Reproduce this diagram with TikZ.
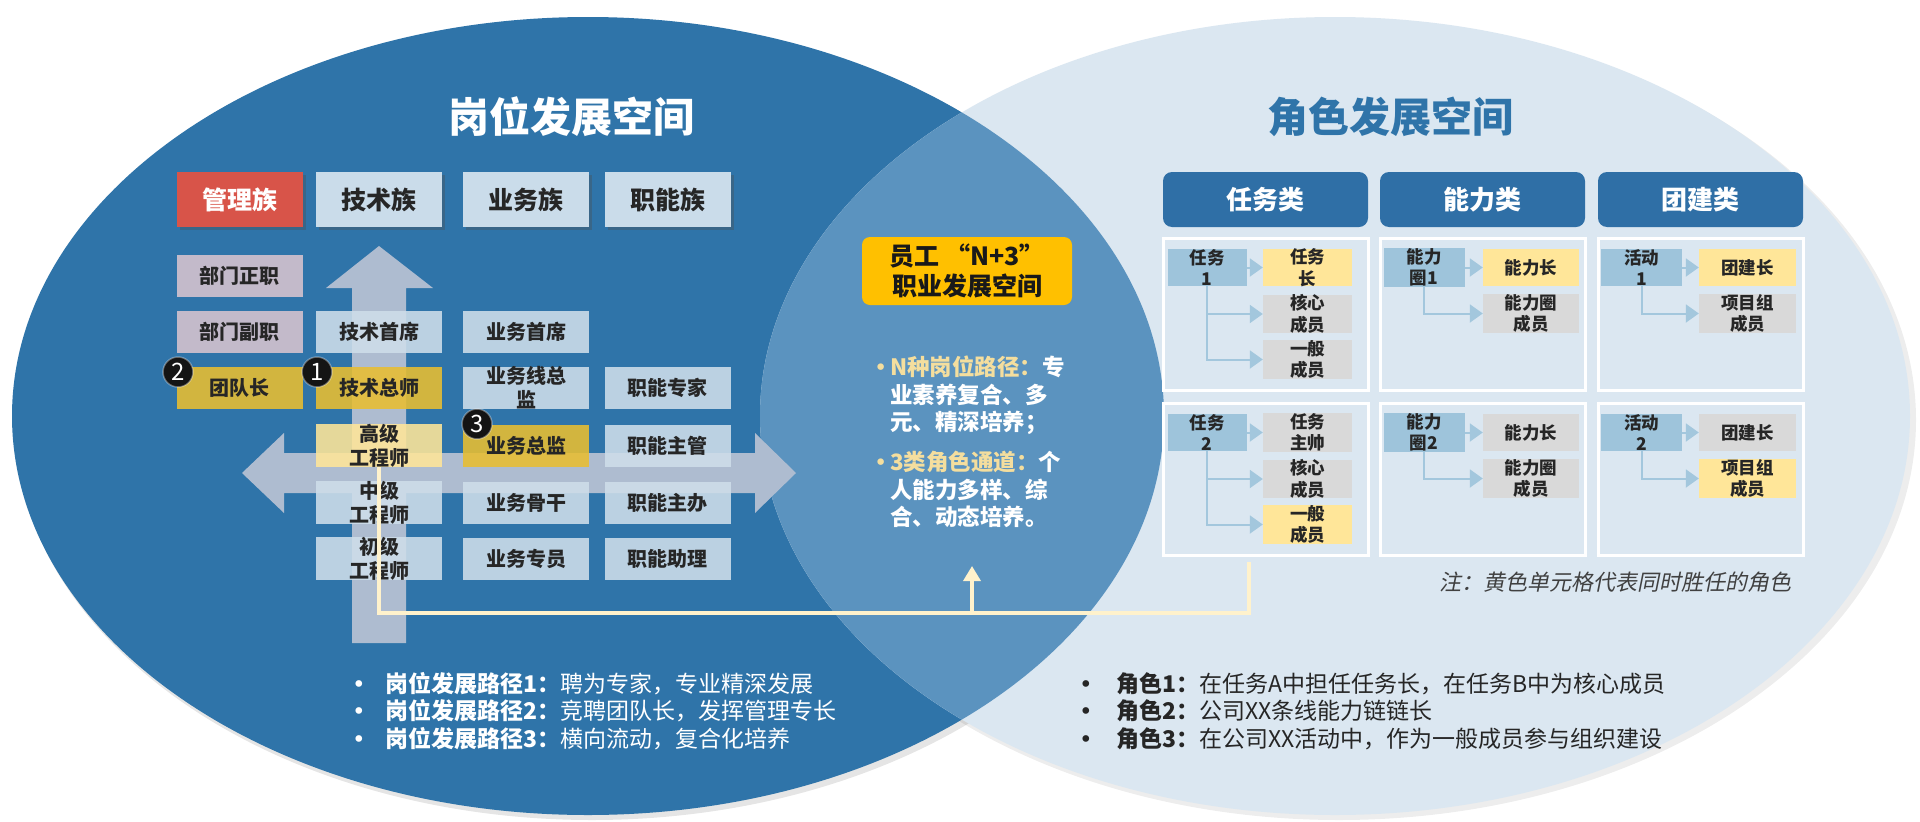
\documentclass[tikz,border=0pt]{standalone}
\usepackage{fontspec}
\setmainfont{Noto Sans CJK SC}
\newfontfamily\cjkit[FakeSlant=0.2]{Noto Sans CJK SC}
\newfontfamily\dejavu{DejaVu Sans}
\newcommand{\bul}{{\dejavu\mdseries •}}
\usetikzlibrary{shadows,arrows.meta,calc}
\definecolor{dblue}{HTML}{2F74A9}
\definecolor{lbg}{HTML}{DBE7F1}
\definecolor{lens}{HTML}{5B93BF}
\definecolor{hbox}{HTML}{CADCEA}
\definecolor{cbox}{HTML}{CFDEEA}
\definecolor{redb}{HTML}{D85449}
\definecolor{mauve}{HTML}{D8C4CF}
\definecolor{goldb}{HTML}{E9BE31}
\definecolor{paley}{HTML}{FFE699}
\definecolor{arrowc}{HTML}{AEBCD0}
\definecolor{nboxc}{HTML}{FFC000}
\definecolor{rhdr}{HTML}{2F6FA6}
\definecolor{tboxc}{HTML}{9EC4DB}
\definecolor{ycell}{HTML}{FFE699}
\definecolor{gcell}{HTML}{D9D9D9}
\definecolor{tlinec}{HTML}{A3C7DD}
\definecolor{cream}{HTML}{FFF2CC}
\definecolor{hl}{HTML}{F4DE9E}
\definecolor{txt}{HTML}{262626}
\definecolor{notec}{HTML}{404040}
\begin{document}
\begin{tikzpicture}[x=1pt,y=-1pt,
  lhdr/.style={minimum width=126, minimum height=55, inner sep=0, fill=hbox, text=txt,
    font=\bfseries\fontsize{25}{28}\selectfont,
    drop shadow={shadow xshift=3pt, shadow yshift=-3pt, opacity=0.35, fill=black!70}},
  lcell/.style={minimum width=126, minimum height=42, inner sep=0, fill=cbox, text=txt,
    align=center, fill opacity=0.88, text opacity=1,
    font=\bfseries\fontsize{20}{24}\selectfont},
  circnum/.style={circle, fill=black!92, minimum size=30, inner sep=0, text=white,
    draw=white, draw opacity=0.35, line width=1.5,
    font=\fontsize{24}{24}\selectfont},
  rhdrbox/.style={rounded corners=9, fill=rhdr, minimum width=205, minimum height=55,
    inner sep=0, text=white, font=\bfseries\fontsize{26}{28}\selectfont},
  grpbox/.style={draw=white, line width=3, minimum width=205, minimum height=152, inner sep=0},
  tbbox/.style={fill=tboxc, minimum height=37, inner sep=0, align=center, text=txt,
    font=\bfseries\fontsize{17.5}{21.5}\selectfont},
  ccell/.style={minimum height=37, inner sep=0, align=center, text=txt,
    font=\bfseries\fontsize{17.5}{21.5}\selectfont},
  tarrow/.style={draw=tlinec, line width=2, -{Triangle[length=13pt,width=18pt]}},
  creamln/.style={draw=cream, line width=3.5},
  nbox/.style={rounded corners=8, fill=nboxc, minimum width=210, minimum height=68,
    inner sep=0, align=center, text=black!90, font=\bfseries\fontsize{25}{30}\selectfont},
  lensline/.style={anchor=base west, inner sep=0, text=white,
    font=\bfseries\fontsize{22.5}{27.5}\selectfont},
  botline/.style={anchor=base west, inner sep=0, font=\fontsize{23}{24}\selectfont}
]
\useasboundingbox (0,0) rectangle (1920,822);
\fill[white] (0,0) rectangle (1920,822);

% ellipses with soft shadows
\fill[black, opacity=0.10] (592,420) ellipse [x radius=578, y radius=400];
\fill[black, opacity=0.07] (1339,420) ellipse [x radius=577, y radius=400];
\fill[dblue] (588,416) ellipse [x radius=576, y radius=399];
\fill[lbg] (1335,416) ellipse [x radius=575, y radius=399];
\begin{scope}
  \clip (588,416) ellipse [x radius=576, y radius=399];
  \fill[lens] (1335,416) ellipse [x radius=575, y radius=399];
\end{scope}

% titles
\node[text=white, font=\bfseries\fontsize{41}{44}\selectfont] (ttl) at (571,117) {岗位发展空间};
\node[text=dblue, font=\bfseries\fontsize{41}{44}\selectfont] (ttr) at (1390,117) {角色发展空间};

% big arrows
\fill[arrowc] (379,246) -- (433,288) -- (406,288) -- (406,643) -- (352,643) -- (352,288) -- (326,288) -- cycle;
\fill[arrowc] (242,473) -- (284,433) -- (284,453) -- (755,453) -- (755,433) -- (796,473)
  -- (755,513) -- (755,493) -- (284,493) -- (284,513) -- cycle;

% left headers
\node[lhdr, fill=redb, text=white] (h0) at (239.5,199.5) {管理族};
\node[lhdr] (h1) at (379,199.5) {技术族};
\node[lhdr] (h2) at (526,199.5) {业务族};
\node[lhdr] (h3) at (667.5,199.5) {职能族};

% left cells
\node[lcell, fill=mauve] (c-bz) at (239.5,275.5) {部门正职};
\node[lcell, fill=mauve] (c-bf) at (239.5,332) {部门副职};
\node[lcell] (c-js) at (379,332) {技术首席};
\node[lcell] (c-ys) at (526,332) {业务首席};
\node[lcell, fill=goldb] (c-td) at (239.5,388) {团队长};
\node[lcell, fill=goldb] (c-jz) at (379,388) {技术总师};
\node[lcell] (c-yx) at (526,388) {业务线总\\监};
\node[lcell] (c-zz) at (667.5,388) {职能专家};
\node[lcell, fill=paley] (c-gj) at (379,445.5) {高级\\工程师};
\node[lcell, fill=goldb] (c-yz) at (526,445.5) {业务总监};
\node[lcell] (c-zg) at (667.5,445.5) {职能主管};
\node[lcell] (c-zj) at (379,502.5) {中级\\工程师};
\node[lcell] (c-yg) at (526,502.5) {业务骨干};
\node[lcell] (c-zb) at (667.5,502.5) {职能主办};
\node[lcell] (c-cj) at (379,558.5) {初级\\工程师};
\node[lcell] (c-yy) at (526,558.5) {业务专员};
\node[lcell] (c-zl) at (667.5,558.5) {职能助理};

% numbered circles
\node[circnum] (n2) at (178,372) {2};
\node[circnum] (n1) at (317,372) {1};
\node[circnum] (n3c) at (477,424) {3};

% N+3 box
\node[nbox] (n3) at (967,271) {员工 “N+3”\\职业发展空间};

% lens bullets
\node[lensline] (b1l1) at (874,375.5) {\makebox[16pt][l]{\textcolor{hl}{\bul}}\textcolor{hl}{N种岗位路径：}专};
\node[lensline] (b1l2) at (890,403) {业素养复合、多};
\node[lensline] (b1l3) at (890,430.5) {元、精深培养；};
\node[lensline] (b2l1) at (874,470.5) {\makebox[16pt][l]{\textcolor{hl}{\bul}}\textcolor{hl}{3类角色通道：}个};
\node[lensline] (b2l2) at (890,498) {人能力多样、综};
\node[lensline] (b2l3) at (890,525.5) {合、动态培养。};

% right headers
\node[rhdrbox] (rh1) at (1265.5,199.5) {任务类};
\node[rhdrbox] (rh2) at (1482.5,199.5) {能力类};
\node[rhdrbox] (rh3) at (1700.5,199.5) {团建类};

% group boxes
\node[grpbox] (g11) at (1266,314) {};
\node[grpbox] (g12) at (1482.5,314) {};
\node[grpbox] (g13) at (1700.5,314) {};
\node[grpbox] (g21) at (1266,479) {};
\node[grpbox] (g22) at (1482.5,479) {};
\node[grpbox] (g23) at (1700.5,479) {};

% task group 1
\node[tbbox, minimum width=79] (t1) at (1207,267.5) {任务\\1};
\node[ccell, fill=ycell, minimum width=89] (t1a) at (1307.5,267.5) {任务\\长};
\node[ccell, fill=gcell, minimum width=89] (t1b) at (1307.5,314) {核心\\成员};
\node[ccell, fill=gcell, minimum width=89] (t1c) at (1307.5,359.5) {一般\\成员};
\draw[tarrow] (t1.east) -- (t1a.west);
\draw[tarrow] (t1.south) |- (t1b.west);
\draw[tarrow] (t1.south) |- (t1c.west);
% task group 2
\node[tbbox, minimum width=79] (t2) at (1207,432.5) {任务\\2};
\node[ccell, fill=gcell, minimum width=89] (t2a) at (1307.5,432.5) {任务\\主帅};
\node[ccell, fill=gcell, minimum width=89] (t2b) at (1307.5,479) {核心\\成员};
\node[ccell, fill=ycell, minimum width=89] (t2c) at (1307.5,524.5) {一般\\成员};
\draw[tarrow] (t2.east) -- (t2a.west);
\draw[tarrow] (t2.south) |- (t2b.west);
\draw[tarrow] (t2.south) |- (t2c.west);
% ability group 1
\node[tbbox, minimum width=81] (a1) at (1424,267.5) {能力\\圈1};
\node[ccell, fill=ycell, minimum width=96] (a1a) at (1531,267.5) {能力长};
\node[ccell, fill=gcell, minimum width=96, minimum height=39] (a1b) at (1531,313.5) {能力圈\\成员};
\draw[tarrow] (a1.east) -- (a1a.west);
\draw[tarrow] (a1.south) |- (a1b.west);
% ability group 2
\node[tbbox, minimum width=81] (a2) at (1424,432.5) {能力\\圈2};
\node[ccell, fill=gcell, minimum width=96] (a2a) at (1531,432.5) {能力长};
\node[ccell, fill=gcell, minimum width=96, minimum height=39] (a2b) at (1531,478.5) {能力圈\\成员};
\draw[tarrow] (a2.east) -- (a2a.west);
\draw[tarrow] (a2.south) |- (a2b.west);
% team group 1
\node[tbbox, minimum width=81] (e1) at (1641.5,267.5) {活动\\1};
\node[ccell, fill=ycell, minimum width=97] (e1a) at (1747.5,267.5) {团建长};
\node[ccell, fill=gcell, minimum width=97, minimum height=39] (e1b) at (1747.5,313.5) {项目组\\成员};
\draw[tarrow] (e1.east) -- (e1a.west);
\draw[tarrow] (e1.south) |- (e1b.west);
% team group 2
\node[tbbox, minimum width=81] (e2) at (1641.5,432.5) {活动\\2};
\node[ccell, fill=gcell, minimum width=97] (e2a) at (1747.5,432.5) {团建长};
\node[ccell, fill=ycell, minimum width=97, minimum height=39] (e2b) at (1747.5,478.5) {项目组\\成员};
\draw[tarrow] (e2.east) -- (e2a.west);
\draw[tarrow] (e2.south) |- (e2b.west);

% note
\node[anchor=east, inner sep=0, text=notec, font=\cjkit\fontsize{22}{24}\selectfont] (note) at (1792,582) {注：黄色单元格代表同时胜任的角色};

% cream connector
\coordinate (yl) at (972,613);
\coordinate (tend) at (1249,562);
\coordinate (uptip) at (972,566);
\draw[creamln] (c-gj.south) |- (yl) -| (tend);
\draw[creamln, -{Triangle[length=15pt,width=17pt]}] (yl) -- (uptip);

% bottom bullets left
\node[botline, text=white] (lb1) at (352,692) {\makebox[33pt][l]{\bul}\textbf{岗位发展路径1：}聘为专家，专业精深发展};
\node[botline, text=white] (lb2) at (352,719.5) {\makebox[33pt][l]{\bul}\textbf{岗位发展路径2：}竞聘团队长，发挥管理专长};
\node[botline, text=white] (lb3) at (352,747) {\makebox[33pt][l]{\bul}\textbf{岗位发展路径3：}横向流动，复合化培养};
% bottom bullets right
\node[botline, text=txt] (rb1) at (1079,692) {\makebox[37pt][l]{\bul}\textbf{角色1：}在任务A中担任任务长，在任务B中为核心成员};
\node[botline, text=txt] (rb2) at (1079,719.5) {\makebox[37pt][l]{\bul}\textbf{角色2：}公司XX条线能力链链长};
\node[botline, text=txt] (rb3) at (1079,747) {\makebox[37pt][l]{\bul}\textbf{角色3：}在公司XX活动中，作为一般成员参与组织建设};
\end{tikzpicture}
\end{document}
